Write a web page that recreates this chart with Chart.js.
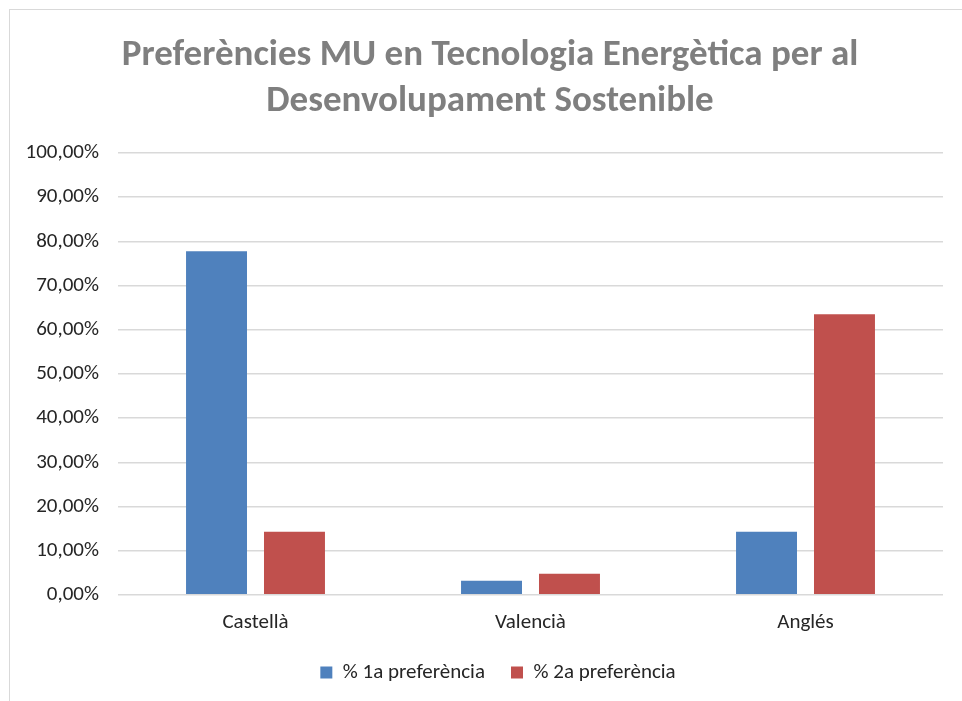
<!DOCTYPE html>
<html>
<head>
<meta charset="utf-8">
<script src="https://cdn.jsdelivr.net/npm/chart.js@4"></script>
<style>
  html, body { margin: 0; padding: 0; background: #fff; overflow: hidden; }
  #wrap { position: absolute; left: 9px; top: 9px; width: 960px; height: 700px; border: 1px solid #d9d9d9; background:#fff; }
</style>
</head>
<body>
<div id="wrap"><canvas id="c" width="960" height="700"></canvas></div>
<script>
const categories = ["Castellà", "Valencià", "Anglés"];
const seriesNames = ["% 1a preferència", "% 2a preferència"];
const firstPref = [77.78, 3.17, 14.29];
const secondPref = [14.29, 4.76, 63.49];
const yTicks = [0, 10, 20, 30, 40, 50, 60, 70, 80, 90, 100];
const titleLines = ["Preferències MU en Tecnologia Energètica per al", "Desenvolupament Sostenible"];

const fontFam = "Carlito, Lato, 'Open Sans', sans-serif";

const centerBlocks = {
  id: 'centerBlocks',
  afterLayout(chart) {
    const t = chart.titleBlock;
    if (t) { t.left = 0; t.right = chart.width; t.width = chart.width; }
    const l = chart.legend;
    if (l) { l.left = 8; l.right = chart.width + 8; l.width = chart.width; }
  }
};

new Chart(document.getElementById('c'), {
  type: 'bar',
  data: {
    labels: categories,
    datasets: [
      { label: seriesNames[0], data: firstPref, backgroundColor: '#4f81bd', borderWidth: 0 },
      { label: seriesNames[1], data: secondPref, backgroundColor: '#c0504d', borderWidth: 0 }
    ]
  },
  plugins: [centerBlocks],
  options: {
    responsive: false,
    animation: false,
    layout: { padding: { left: 0, right: 27, top: 14, bottom: 17 } },
    plugins: {
      title: {
        display: true,
        text: titleLines,
        color: '#7f7f7f',
        font: { family: fontFam, size: 37, weight: 'bold', lineHeight: 1.243 },
        padding: { top: 9, bottom: 28 }
      },
      legend: {
        position: 'bottom',
        labels: {
          color: '#262626',
          font: { family: fontFam, size: 21 },
          boxWidth: 12, boxHeight: 12, padding: 26
        }
      },
      tooltip: { enabled: false }
    },
    datasets: { bar: { categoryPercentage: 0.567, barPercentage: 0.782 } },
    scales: {
      x: {
        afterFit: (s) => { s.height -= 14; },
        grid: { display: false, drawTicks: false },
        border: { display: false },
        ticks: { color: '#262626', font: { family: fontFam, size: 21 }, padding: 15 }
      },
      y: {
        min: 0, max: 100,
        afterFit: (s) => { s.width = 108; },
        afterBuildTicks: (s) => { s.ticks = yTicks.map(v => ({ value: v })); },
        grid: { color: '#d9d9d9', lineWidth: 1.5, drawTicks: false },
        border: { display: false },
        ticks: {
          color: '#262626', font: { family: fontFam, size: 21 }, padding: 19,
          callback: (v) => v.toFixed(2).replace('.', ',') + '%'
        }
      }
    }
  }
});
</script>
</body>
</html>
